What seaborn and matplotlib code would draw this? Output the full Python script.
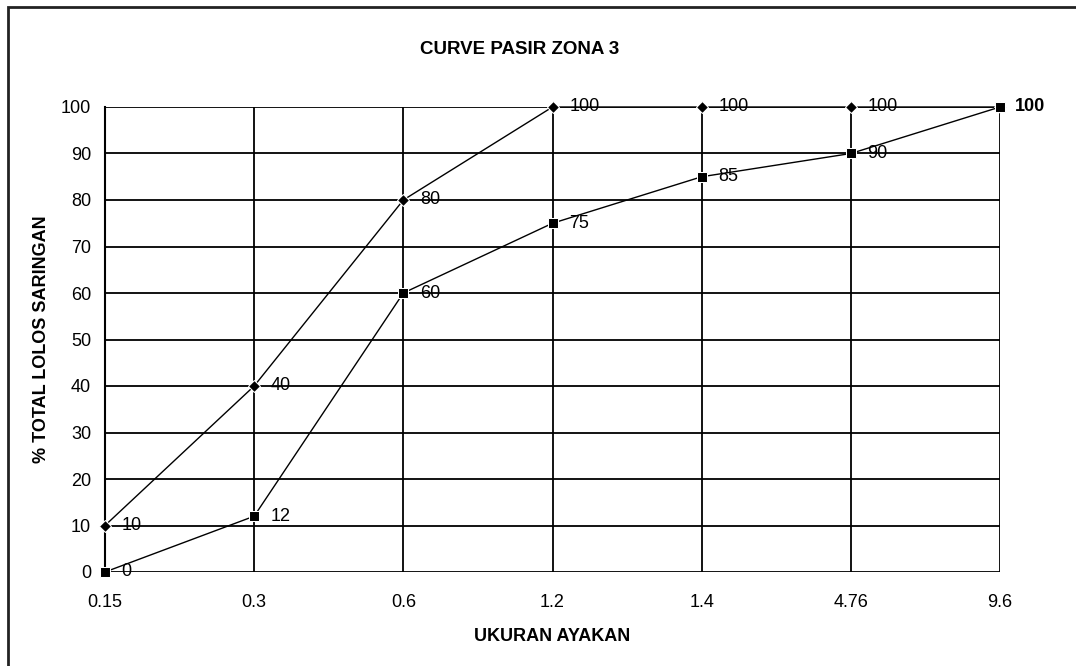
import matplotlib
matplotlib.use("Agg")
import matplotlib.pyplot as plt
import seaborn as sns
import pandas as pd
from matplotlib.patches import Rectangle

# data
ukuran = ["0.15", "0.3", "0.6", "1.2", "1.4", "4.76", "9.6"]
batas_atas = [10, 40, 80, 100, 100, 100, 100]
batas_bawah = [0, 12, 60, 75, 85, 90, 100]
y_ticks = [0, 10, 20, 30, 40, 50, 60, 70, 80, 90, 100]

sns.set_style("white")
plt.rcParams['font.family'] = ['Liberation Sans', 'DejaVu Sans']
plt.rcParams['text.color'] = 'black'
plt.rcParams['axes.labelcolor'] = 'black'
plt.rcParams['xtick.color'] = 'black'
plt.rcParams['ytick.color'] = 'black'

df = pd.DataFrame({"ukuran": ukuran, "atas": batas_atas, "bawah": batas_bawah})

fig = plt.figure(figsize=(10.76, 6.66), dpi=100)
ax = fig.add_axes([105 / 1076, 94 / 666, 895 / 1076, 465 / 666])

# bingkai luar
fig.patches.append(Rectangle((8 / 1076, -0.05), 1.1, 1.05 - 7 / 666,
                             transform=fig.transFigure, fill=False,
                             edgecolor='#222222', linewidth=2))

sns.lineplot(data=df, x="ukuran", y="atas", marker="D", markersize=6,
             color="black", linewidth=1, sort=False, ax=ax, zorder=5, clip_on=False)
sns.lineplot(data=df, x="ukuran", y="bawah", marker="s", markersize=7,
             color="black", linewidth=1, sort=False, ax=ax, zorder=5, clip_on=False)

ax.set_xlim(0, len(ukuran) - 1)
ax.set_ylim(0, 100)
ax.set_yticks(y_ticks)
ax.grid(True, color="black", linewidth=1.3)
ax.set_axisbelow(True)
for s in ["top", "right", "bottom"]:
    ax.spines[s].set_visible(False)
ax.spines["left"].set_color("black")
ax.spines["left"].set_linewidth(1.5)
ax.tick_params(axis="both", which="both", length=7, width=1.2, color="black",
               labelsize=13, direction="out", pad=3)
ax.tick_params(axis="x", pad=9)

# label nilai
for i, v in enumerate(batas_atas[:-1]):
    ax.annotate(str(v), (i, v), xytext=(12, 0), textcoords="offset points",
                va="center", ha="left", fontsize=13)
for i, v in enumerate(batas_bawah[:-1]):
    ax.annotate(str(v), (i, v), xytext=(12, 0), textcoords="offset points",
                va="center", ha="left", fontsize=13)
ax.annotate(str(batas_bawah[-1]), (len(ukuran) - 1, batas_bawah[-1]),
            xytext=(11, 0), textcoords="offset points", va="center",
            ha="left", fontsize=13, fontweight="bold", annotation_clip=False)
for t in ax.texts:
    t.set_clip_on(False)

ax.set_xlabel("UKURAN AYAKAN", fontsize=13, fontweight="bold", labelpad=12)
ax.set_ylabel("% TOTAL LOLOS SARINGAN", fontsize=13, fontweight="bold", labelpad=8)
fig.text(520 / 1076, 1 - 50 / 666, "CURVE PASIR ZONA 3", ha="center",
         va="center", fontsize=13.5, fontweight="bold")

fig.savefig("out.png", dpi=100)
